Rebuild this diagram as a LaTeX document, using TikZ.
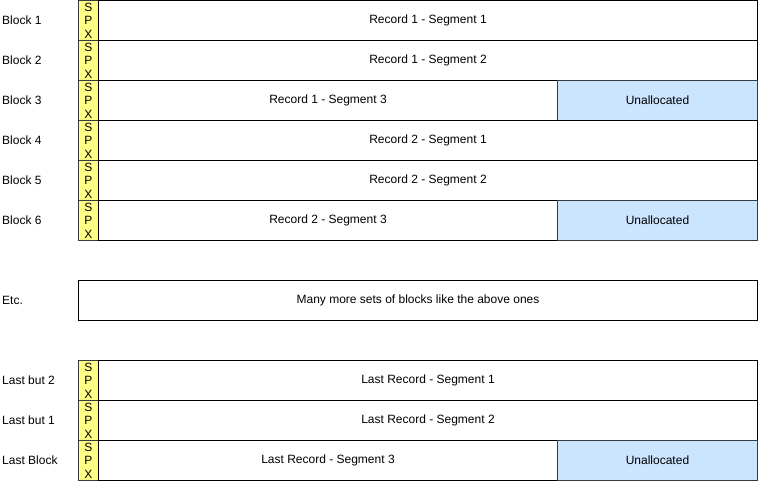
\documentclass[tikz,border=0pt]{standalone}
\usepackage{fontspec}
\setmainfont{Liberation Sans}
\usetikzlibrary{positioning}
\definecolor{spxyellow}{HTML}{FFFF88}
\definecolor{freeblue}{HTML}{CCE5FF}
\definecolor{edgegrey}{HTML}{36393D}
\tikzset{
  txt/.style={font=\fontsize{12}{12.5}\selectfont},
  spx/.style={font=\fontsize{12}{13.5}\selectfont,draw=edgegrey,fill=spxyellow,line width=1pt,minimum width=20pt,minimum height=40pt,inner sep=0pt,outer sep=0pt,align=center},
  seg/.style={txt,draw=black,line width=1pt,minimum height=40pt,inner sep=0pt,outer sep=0pt},
  unalloc/.style={seg,draw=edgegrey,fill=freeblue,minimum width=200pt},
  blocklbl/.style={txt,anchor=west,inner sep=0pt}
}

\begin{document}
\begin{tikzpicture}[x=1pt,y=-1pt]
                \useasboundingbox (0,0) rectangle (758,481);
                \coordinate (lblx) at (2,0);
                % first record
                \node[spx,anchor=north west] (spx1) at (78.5,0.5) {S\\P\\X};
                \node[seg,minimum width=659pt,right=0pt of spx1] (rec1) {Record 1 - Segment 1};
                \node[spx,below=0pt of spx1] (spx2) {S\\P\\X};
                \node[seg,minimum width=659pt,right=0pt of spx2] (rec2) {Record 1 - Segment 2};
                \node[spx,below=0pt of spx2] (spx3) {S\\P\\X};
                \node[seg,minimum width=459pt,right=0pt of spx3] (rec3) {Record 1 - Segment 3};
                \node[unalloc,right=0pt of rec3] (free3) {Unallocated};
                % second record
                \node[spx,below=0pt of spx3] (spx4) {S\\P\\X};
                \node[seg,minimum width=659pt,right=0pt of spx4] (rec4) {Record 2 - Segment 1};
                \node[spx,below=0pt of spx4] (spx5) {S\\P\\X};
                \node[seg,minimum width=659pt,right=0pt of spx5] (rec5) {Record 2 - Segment 2};
                \node[spx,below=0pt of spx5] (spx6) {S\\P\\X};
                \node[seg,minimum width=459pt,right=0pt of spx6] (rec6) {Record 2 - Segment 3};
                \node[unalloc,right=0pt of rec6] (free6) {Unallocated};
                % more blocks
                \node[seg,minimum width=679pt,anchor=north west] (etc) at (78.5,280.5) {Many more sets of blocks like the above ones};
                % last record
                \node[spx,anchor=north west] (spxl2) at (78.5,360.5) {S\\P\\X};
                \node[seg,minimum width=659pt,right=0pt of spxl2] (recl2) {Last Record - Segment 1};
                \node[spx,below=0pt of spxl2] (spxl1) {S\\P\\X};
                \node[seg,minimum width=659pt,right=0pt of spxl1] (recl1) {Last Record - Segment 2};
                \node[spx,below=0pt of spxl1] (spxl) {S\\P\\X};
                \node[seg,minimum width=459pt,right=0pt of spxl] (recl) {Last Record - Segment 3};
                \node[unalloc,right=0pt of recl] (freel) {Unallocated};
                % block labels
                \node[blocklbl] (lbl1) at (spx1 -| lblx) {Block 1};
                \node[blocklbl] (lbl2) at (spx2 -| lblx) {Block 2};
                \node[blocklbl] (lbl3) at (spx3 -| lblx) {Block 3};
                \node[blocklbl] (lbl4) at (spx4 -| lblx) {Block 4};
                \node[blocklbl] (lbl5) at (spx5 -| lblx) {Block 5};
                \node[blocklbl] (lbl6) at (spx6 -| lblx) {Block 6};
                \node[blocklbl] (lbletc) at (etc -| lblx) {Etc.};
                \node[blocklbl] (lbll2) at (spxl2 -| lblx) {Last but 2};
                \node[blocklbl] (lbll1) at (spxl1 -| lblx) {Last but 1};
                \node[blocklbl] (lbll) at (spxl -| lblx) {Last Block};
            \end{tikzpicture}
\end{document}
